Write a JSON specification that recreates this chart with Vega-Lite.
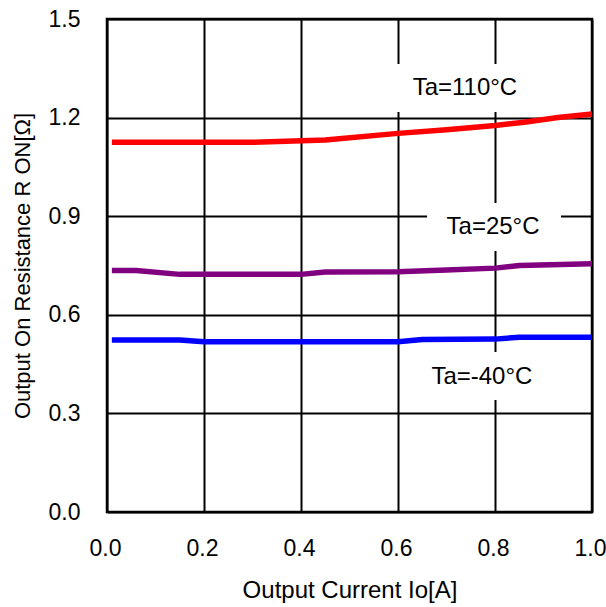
{
  "$schema": "https://vega.github.io/schema/vega-lite/v6.json",
  "autosize": "none",
  "width": 485,
  "height": 493,
  "padding": {"left": 107, "top": 19, "right": 14, "bottom": 95},
  "background": "white",
  "config": {
    "font": "Liberation Sans",
    "view": {"stroke": "black", "strokeWidth": 2.5},
    "axis": {
      "grid": true,
      "gridColor": "black",
      "gridWidth": 2,
      "gridOpacity": 1,
      "domain": false,
      "ticks": false,
      "labelFlush": false,
      "labelOverlap": false,
      "labelFont": "Liberation Sans",
      "labelFontSize": 23,
      "labelColor": "black",
      "titleFont": "Liberation Sans",
      "titleFontSize": 24,
      "titleFontWeight": "normal",
      "titleColor": "black"
    }
  },
  "datasets": {
    "curves": [
      {"series": "110", "io": 0.01, "r": 1.125},
      {"series": "110", "io": 0.1, "r": 1.125},
      {"series": "110", "io": 0.2, "r": 1.125},
      {"series": "110", "io": 0.3, "r": 1.125},
      {"series": "110", "io": 0.45, "r": 1.132},
      {"series": "110", "io": 0.6, "r": 1.152},
      {"series": "110", "io": 0.7, "r": 1.163},
      {"series": "110", "io": 0.8, "r": 1.176},
      {"series": "110", "io": 0.86, "r": 1.186},
      {"series": "110", "io": 0.93, "r": 1.2},
      {"series": "110", "io": 1.0, "r": 1.211},
      {"series": "25", "io": 0.01, "r": 0.735},
      {"series": "25", "io": 0.06, "r": 0.735},
      {"series": "25", "io": 0.15, "r": 0.723},
      {"series": "25", "io": 0.2, "r": 0.723},
      {"series": "25", "io": 0.3, "r": 0.723},
      {"series": "25", "io": 0.4, "r": 0.723},
      {"series": "25", "io": 0.45, "r": 0.73},
      {"series": "25", "io": 0.6, "r": 0.731},
      {"series": "25", "io": 0.7, "r": 0.736},
      {"series": "25", "io": 0.8, "r": 0.742},
      {"series": "25", "io": 0.85, "r": 0.75},
      {"series": "25", "io": 1.0, "r": 0.755},
      {"series": "-40", "io": 0.01, "r": 0.523},
      {"series": "-40", "io": 0.15, "r": 0.523},
      {"series": "-40", "io": 0.2, "r": 0.518},
      {"series": "-40", "io": 0.4, "r": 0.518},
      {"series": "-40", "io": 0.6, "r": 0.518},
      {"series": "-40", "io": 0.65, "r": 0.525},
      {"series": "-40", "io": 0.8, "r": 0.526},
      {"series": "-40", "io": 0.85, "r": 0.532},
      {"series": "-40", "io": 1.0, "r": 0.532}
    ],
    "boxes": [
      {"x1": 0.56, "x2": 0.93, "y1": 1.217, "y2": 1.363},
      {"x1": 0.66, "x2": 0.936, "y1": 0.794, "y2": 0.94},
      {"x1": 0.65, "x2": 0.92, "y1": 0.341, "y2": 0.487}
    ],
    "labels": [
      {"label": "Ta=110°C", "io": 0.738, "r": 1.29},
      {"label": "Ta=25°C", "io": 0.796, "r": 0.867},
      {"label": "Ta=-40°C", "io": 0.773, "r": 0.411}
    ]
  },
  "layer": [
    {
      "data": {"name": "boxes"},
      "mark": {"type": "rect", "fill": "white", "stroke": null},
      "encoding": {
        "x": {
          "field": "x1", "type": "quantitative",
          "scale": {"domain": [0, 1], "nice": false, "zero": false},
          "axis": {
            "values": [0, 0.2, 0.4, 0.6, 0.8, 1.0],
            "format": ".1f",
            "labelPadding": 25,
            "labelOffset": -2,
            "title": "Output Current Io[A]",
            "titlePadding": 18
          }
        },
        "x2": {"field": "x2"},
        "y": {
          "field": "y1", "type": "quantitative",
          "scale": {"domain": [0, 1.5], "nice": false, "zero": false},
          "axis": {
            "values": [0, 0.3, 0.6, 0.9, 1.2, 1.5],
            "format": ".1f",
            "labelPadding": 27,
            "title": "Output On Resistance R ON[Ω]",
            "titleFontSize": 22,
            "titlePadding": 14
          }
        },
        "y2": {"field": "y2"}
      }
    },
    {
      "data": {"name": "curves"},
      "mark": {"type": "line", "strokeWidth": 5.5, "interpolate": "linear"},
      "encoding": {
        "x": {"field": "io", "type": "quantitative"},
        "y": {"field": "r", "type": "quantitative"},
        "color": {
          "field": "series", "type": "nominal",
          "scale": {"domain": ["110", "25", "-40"], "range": ["#ff0000", "#800080", "#0000ff"]},
          "legend": null
        }
      }
    },
    {
      "data": {"name": "labels"},
      "mark": {"type": "text", "font": "Liberation Sans", "fontSize": 24, "color": "black", "align": "center", "baseline": "middle"},
      "encoding": {
        "x": {"field": "io", "type": "quantitative"},
        "y": {"field": "r", "type": "quantitative"},
        "text": {"field": "label"}
      }
    }
  ]
}
